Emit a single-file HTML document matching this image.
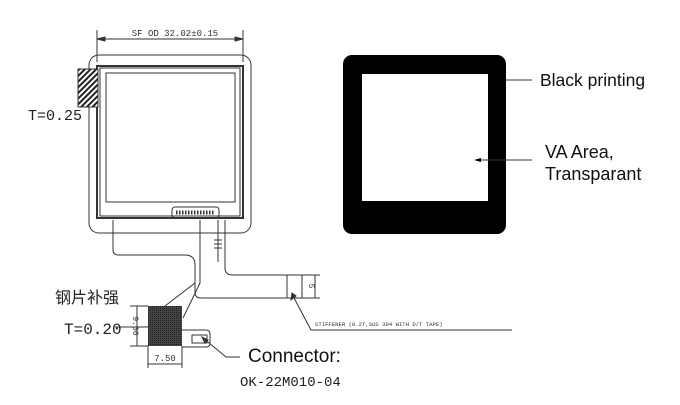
<!DOCTYPE html>
<html><head><meta charset="utf-8"><style>
html,body{margin:0;padding:0;background:#fff;width:680px;height:405px;overflow:hidden}
svg{display:block}
.s{font-family:"Liberation Sans","Noto Sans CJK SC",sans-serif}
.m{font-family:"Liberation Mono",monospace}
</style></head><body>
<svg width="680" height="405" viewBox="0 0 680 405" xmlns="http://www.w3.org/2000/svg">
<defs>
<pattern id="h" width="4" height="4" patternUnits="userSpaceOnUse" patternTransform="rotate(45)">
<rect width="4" height="4" fill="#fff"/><rect width="2" height="4" fill="#222"/></pattern>
<pattern id="d" width="2" height="2" patternUnits="userSpaceOnUse">
<rect width="2" height="2" fill="#444"/><rect width="1" height="1" fill="#222"/></pattern>
</defs>
<g fill="none" stroke="#333" stroke-width="1">
<line x1="97" y1="30" x2="97" y2="62"/><line x1="243" y1="30" x2="243" y2="62"/>
<line x1="97" y1="39" x2="243" y2="39"/>
<path d="M97 39 l8 -2 v4z M243 39 l-8 -2 v4z" fill="#333"/>
<rect x="89" y="55" width="162" height="178" rx="10"/>
<rect x="97" y="66" width="146" height="152" stroke-width="2"/>
<rect x="100" y="68" width="140" height="148"/>
<rect x="106" y="73" width="129" height="129"/>
<rect x="172" y="207" width="47" height="11" rx="3"/>
<path d="M176 212.5 h39" stroke-dasharray="1.5 1.5" stroke-width="4"/>
<path d="M113 220 V250 q0 5 6 5 H185 q10 0 10 10 V292 q0 6 6 6 H302"/>
<path d="M200 220 V283 L183 318"/>
<path d="M195 283 L165 306"/>
<path d="M218 220 V262"/><path d="M225 220 V268 q0 7 8 7 H302 V298"/>
<path d="M214 240 h8 M214 244 h8 M214 248 h8"/>
<line x1="287" y1="275" x2="287" y2="298"/>
<line x1="302" y1="275" x2="320" y2="275"/><line x1="302" y1="298" x2="320" y2="298"/>
<line x1="315" y1="275" x2="315" y2="298"/>
<path d="M293 296 L311 330 H512"/>
<path d="M292 293 l-1 7 l5 -4z" fill="#333"/>
<line x1="130" y1="306" x2="148" y2="306"/><line x1="130" y1="346" x2="148" y2="346"/>
<line x1="137" y1="306" x2="137" y2="346"/>
<line x1="115" y1="327" x2="160" y2="327"/>
<path d="M160 327 l-8 -2 v4z" fill="#333"/>
<line x1="148" y1="346" x2="148" y2="368"/><line x1="182" y1="346" x2="182" y2="368"/>
<line x1="148" y1="364" x2="182" y2="364"/>
<path d="M182 330 h24 q4 0 4 4 v9 q0 4 -4 4 h-24"/>
<rect x="192" y="335" width="15" height="8"/>
<path d="M240 357 H226 L203 338"/>
<path d="M202 337 l3 6 l3 -3z" fill="#333"/>
</g>
<rect x="78" y="69" width="20" height="38" fill="url(#h)" stroke="#333"/>
<rect x="148" y="306" width="34" height="40" fill="url(#d)"/>
<text x="175" y="36" font-size="9" text-anchor="middle" fill="#333" class="m">SF OD 32.02±0.15</text>
<text x="28" y="120" font-size="15" fill="#222" class="m">T=0.25</text>
<text x="55" y="303" font-size="16" fill="#222" class="s">钢片补强</text>
<text x="64" y="334" font-size="16" fill="#222" class="m">T=0.20</text>
<text x="0" y="0" font-size="8" fill="#333" transform="translate(133 326) rotate(90)" text-anchor="middle" class="m">9.00</text>
<text x="165" y="361" font-size="9" fill="#333" text-anchor="middle" class="m">7.50</text>
<text x="0" y="0" font-size="8" fill="#333" transform="translate(309 286) rotate(90)" text-anchor="middle" class="m">5</text>
<text x="315" y="326" font-size="5.6" fill="#333" class="m">STIFFENER (0.2T,SUS 304 WITH D/T TAPE)</text>
<text x="248" y="362" font-size="19" fill="#111" class="s">Connector:</text>
<text x="240" y="386" font-size="14" fill="#222" class="m">OK-22M010-04</text>
<rect x="343" y="55" width="163" height="179" rx="9" fill="#000"/>
<rect x="362" y="74" width="126" height="127" fill="#fff"/>
<line x1="506" y1="80" x2="532" y2="80" stroke="#333"/>
<line x1="478" y1="160" x2="532" y2="160" stroke="#333"/>
<path d="M474 160 l7 -2 v4z" fill="#000"/>
<text x="540" y="86" font-size="17.5" fill="#111" class="s">Black printing</text>
<text x="545" y="158" font-size="18" fill="#111" class="s">VA Area,</text>
<text x="545" y="180" font-size="18" fill="#111" class="s">Transparant</text>
</svg>
</body></html>
